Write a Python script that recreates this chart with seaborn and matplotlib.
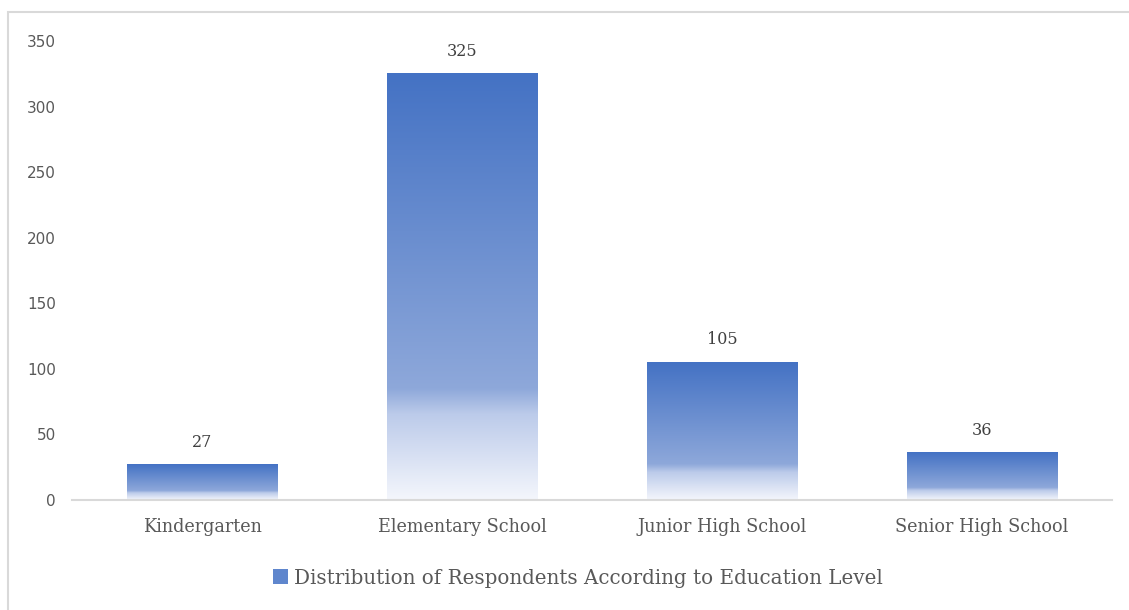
import numpy as np
import matplotlib
matplotlib.use("Agg")
import matplotlib.pyplot as plt
from matplotlib.colors import LinearSegmentedColormap
from matplotlib.patches import Rectangle, Patch
import seaborn as sns

# Data
categories = ["Kindergarten", "Elementary School", "Junior High School", "Senior High School"]
respondents = [27, 325, 105, 36]
series_name = "Distribution of Respondents According to Education Level"
y_ticks = [0, 50, 100, 150, 200, 250, 300, 350]

sns.set_theme(style="white")
plt.rcParams["font.family"] = ["DejaVu Sans"]

BLUE = "#4472C4"
TEXT_DARK = "#404040"
TEXT_GRAY = "#595959"
LINE_GRAY = "#D9D9D9"
SERIF = ["DejaVu Serif"]

# vertical fill used inside every bar: solid blue on top, fading to white at the base
fade = LinearSegmentedColormap.from_list(
    "fade",
    [(0.0, BLUE), (0.74, "#8EA8DA"), (0.80, "#BCCBEA"), (1.0, "#F4F6FC")],
)

fig = plt.figure(figsize=(11.29, 6.10), dpi=100)
ax = fig.add_axes([72 / 1129, 110 / 610, 1040 / 1129, 459 / 610])

sns.barplot(x=categories, y=respondents, color=BLUE, width=0.577,
            saturation=1, ax=ax)

gradient = np.linspace(0, 1, 256).reshape(-1, 1)
for patch in ax.patches:
    x0, y0 = patch.get_x(), patch.get_y()
    w, h = patch.get_width(), patch.get_height()
    patch.set_facecolor("none")
    patch.set_edgecolor("none")
    ax.imshow(gradient, cmap=fade, aspect="auto", origin="upper",
              extent=(x0, x0 + w, y0, y0 + h), zorder=2, interpolation="bilinear")

ax.bar_label(ax.containers[0], labels=[str(v) for v in respondents], padding=10,
             fontsize=11.5, color=TEXT_DARK, family=SERIF)

ax.set_xlim(-0.5, len(categories) - 0.5)
ax.set_ylim(0, 350)
ax.set_yticks(y_ticks)
ax.set_xlabel("")
ax.set_ylabel("")

ax.tick_params(axis="y", length=0, pad=11.5, labelsize=11, labelcolor=TEXT_GRAY)
ax.tick_params(axis="x", length=0, pad=13, labelsize=12.7, labelcolor=TEXT_GRAY)
for lbl in ax.get_xticklabels():
    lbl.set_family(SERIF)

for side in ["top", "right", "left"]:
    ax.spines[side].set_visible(False)
ax.spines["bottom"].set_color(LINE_GRAY)
ax.spines["bottom"].set_linewidth(1.5)

# legend
handle = Patch(facecolor="#5F86CD", edgecolor="none")
leg = fig.legend([handle], [series_name], loc="center", bbox_to_anchor=(578 / 1129, 1 - 578 / 610),
                 frameon=False, handlelength=0.75, handleheight=0.75, handletextpad=0.3,
                 prop={"family": SERIF, "size": 14.3})
for t in leg.get_texts():
    t.set_color(TEXT_GRAY)

# chart area frame
fig.patches.append(Rectangle((8 / 1129, -0.1), 1.2, 1 - 12 / 610 + 0.1,
                             transform=fig.transFigure, fill=False,
                             edgecolor=LINE_GRAY, linewidth=1.5, zorder=0))

fig.savefig("out.png", dpi=100, facecolor="white")
